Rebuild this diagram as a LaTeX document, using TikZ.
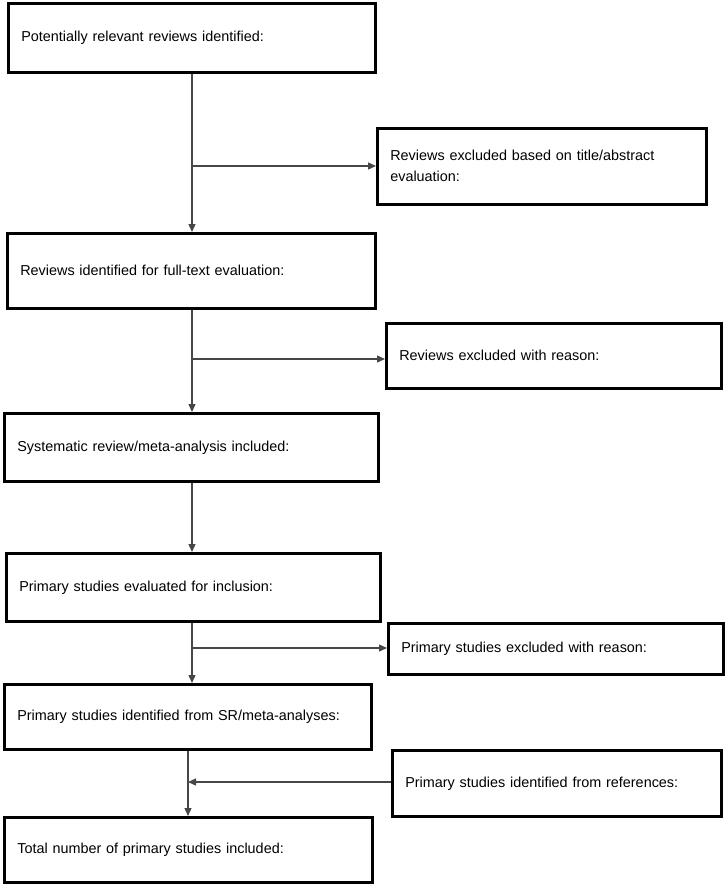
\documentclass[tikz,border=0pt]{standalone}
\usepackage{fontspec}
\setmainfont{Liberation Sans}
\usetikzlibrary{arrows.meta}
\begin{document}
\begin{tikzpicture}[x=1pt,y=-1pt,
  box/.style={draw=black,line width=2.6pt,rectangle,inner xsep=13pt,inner ysep=0pt,
    align=left,font=\fontsize{14.4}{21}\selectfont,anchor=north west},
  arr/.style={draw=black!72,line width=1.3pt,-{Triangle[length=8pt,width=7pt]}}]
\useasboundingbox[fill=white] (0,0) rectangle (725,884);
% boxes: top left corner, text width, height
\node[box,minimum height=69pt,text width=341pt] (b1) at (7,2) {Potentially relevant reviews identified:};
\node[box,minimum height=76pt,text width=303pt] (b2) at (376,127) {Reviews excluded based on title/abstract\\evaluation:};
\node[box,minimum height=75pt,text width=342pt] (b3) at (6,232) {Reviews identified for full-text evaluation:};
\node[box,minimum height=65pt,text width=309pt] (b4) at (385,322) {Reviews excluded with reason:};
\node[box,minimum height=68pt,text width=348pt] (b5) at (3,412) {Systematic review/meta-analysis included:};
\node[box,minimum height=68pt,text width=348pt] (b6) at (5,552) {Primary studies evaluated for inclusion:};
\node[box,minimum height=51pt,text width=309pt] (b7) at (387,622) {Primary studies excluded with reason:};
\node[box,minimum height=65pt,text width=341pt] (b8) at (3,683) {Primary studies identified from SR/meta-analyses:};
\node[box,minimum height=66pt,text width=303pt] (b9) at (391,749) {Primary studies identified from references:};
\node[box,minimum height=65pt,text width=342pt] (b10) at (3,816) {Total number of primary studies included:};
% spine coordinates
\coordinate (xa) at (192,0);
\coordinate (xb) at (188,0);
\coordinate (j1) at (192,166);
\coordinate (j2) at (192,359);
\coordinate (j3) at (192,648);
\coordinate (j4) at (188,782);
% connectors
\draw[arr] (b1.south -| xa) -- (b3.north -| xa);
\draw[arr] (j1) -- (j1 -| b2.west);
\draw[arr] (b3.south -| xa) -- (b5.north -| xa);
\draw[arr] (j2) -- (j2 -| b4.west);
\draw[arr] (b5.south -| xa) -- (b6.north -| xa);
\draw[arr] (b6.south -| xa) -- (b8.north -| xa);
\draw[arr] (j3) -- (j3 -| b7.west);
\draw[arr] (b8.south -| xb) -- (b10.north -| xb);
\draw[arr] (j4 -| b9.west) -- (j4);
\end{tikzpicture}
\end{document}
